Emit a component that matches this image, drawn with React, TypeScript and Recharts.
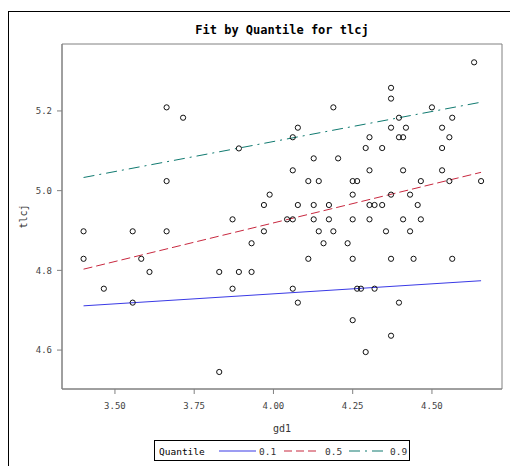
import React from "react";
import { ComposedChart, Scatter, XAxis, YAxis, ReferenceArea, Label } from "recharts";

// observed points
const gd1 = [
  3.401, 3.401, 3.465, 3.556, 3.556, 3.583, 3.609, 3.663, 3.663, 3.663,
  3.715, 3.829, 3.829, 3.871, 3.871, 3.891, 3.891, 3.931, 3.931, 3.970,
  3.970, 3.988, 4.043, 4.061, 4.061, 4.061, 4.061, 4.077, 4.077, 4.077,
  4.110, 4.110, 4.127, 4.127, 4.127, 4.143, 4.143, 4.158, 4.175, 4.175,
  4.189, 4.189, 4.204, 4.234, 4.250, 4.250, 4.250, 4.250, 4.250, 4.264,
  4.264, 4.276, 4.291, 4.291, 4.303, 4.303, 4.303, 4.303, 4.319, 4.319,
  4.343, 4.343, 4.355, 4.371, 4.371, 4.371, 4.371, 4.371, 4.371, 4.396,
  4.396, 4.396, 4.409, 4.409, 4.409, 4.418, 4.431, 4.431, 4.442, 4.455,
  4.465, 4.465, 4.500, 4.532, 4.532, 4.532, 4.555, 4.555, 4.564, 4.564,
  4.633, 4.655,
];
const tlcj = [
  4.898, 4.829, 4.754, 4.898, 4.719, 4.829, 4.796, 5.209, 5.024, 4.898,
  5.183, 4.796, 4.545, 4.928, 4.754, 5.106, 4.796, 4.868, 4.796, 4.964,
  4.898, 4.990, 4.928, 5.134, 5.051, 4.928, 4.754, 5.158, 4.964, 4.719,
  5.024, 4.829, 5.081, 4.964, 4.928, 5.024, 4.898, 4.868, 4.964, 4.928,
  5.209, 4.898, 5.081, 4.868, 5.024, 4.990, 4.928, 4.829, 4.675, 5.024,
  4.754, 4.754, 5.107, 4.595, 5.134, 5.051, 4.964, 4.928, 4.964, 4.754,
  5.107, 4.964, 4.898, 5.258, 5.231, 5.158, 4.990, 4.829, 4.636, 5.183,
  5.134, 4.719, 5.134, 5.051, 4.928, 5.158, 4.990, 4.898, 4.829, 4.964,
  5.024, 4.928, 5.209, 5.158, 5.107, 5.051, 5.134, 5.024, 5.183, 4.829,
  5.322, 5.024,
];

// fitted quantile lines (endpoints)
const fitX = [3.401, 4.655];
const q10 = [4.711, 4.774];
const q50 = [4.803, 5.046];
const q90 = [5.033, 5.222];

const quantiles = ["0.1", "0.5", "0.9"];
const xTicks = [3.5, 3.75, 4.0, 4.25, 4.5];
const yTicks = [4.6, 4.8, 5.0, 5.2];
const xDomain = [3.333, 4.721];
const yDomain = [4.5023, 5.368];

const points = gd1.map((x, i) => ({ x, y: tlcj[i] }));
const mk = (ys: number[]) => fitX.map((x, i) => ({ x, y: ys[i] }));

const COLORS = ["#3a3ae6", "#c8283f", "#107a70"];
const DASHES = [undefined, "9 4", "11 5 2 5"];
const LEG_DASHES = [undefined, "8 4", "11 5 2 5"];

const MONO = "'DejaVu Sans Mono', monospace";

const Circle = (props: any) => {
  const { cx, cy } = props;
  if (cx == null || cy == null) return <g />;
  return <circle cx={cx} cy={cy} r={2.6} fill="none" stroke="#111" strokeWidth={1} />;
};
const NoShape = () => <g />;

export default function App() {
  const fits = [mk(q10), mk(q50), mk(q90)];
  return (
    <div style={{ position: "absolute", left: 0, top: 0, width: 510, height: 466, background: "#fff", overflow: "hidden" }}>
      {/* outer frame */}
      <div style={{ position: "absolute", left: 8, top: 11, width: 510, height: 466, borderLeft: "1px solid #000", borderTop: "1px solid #000" }} />
      <div style={{ position: "absolute", left: 62, top: 23, width: 440, textAlign: "center", fontFamily: MONO, fontWeight: "bold", fontSize: 12, lineHeight: "15px", color: "#000" }}>
        Fit by Quantile for tlcj
      </div>
      <div style={{ position: "absolute", left: 0, top: 0 }}>
        <ComposedChart width={510} height={466} margin={{ top: 44, right: 8, bottom: 47, left: 22 }}>
          <XAxis
            type="number"
            dataKey="x"
            domain={xDomain}
            ticks={xTicks}
            allowDataOverflow
            height={30}
            tickSize={5}
            tickMargin={9}
            stroke="#808080"
            tick={{ fontFamily: MONO, fontSize: 9, fill: "#444" }}
            tickFormatter={(v: number) => v.toFixed(2)}
          >
            <Label
              content={(p: any) => {
                const vb = p.viewBox;
                return (
                  <text x={vb.x + vb.width / 2} y={432} textAnchor="middle" fontFamily={MONO} fontSize={10} fill="#333">
                    gd1
                  </text>
                );
              }}
            />
          </XAxis>
          <YAxis
            type="number"
            dataKey="y"
            domain={yDomain}
            ticks={yTicks}
            allowDataOverflow
            width={40}
            tickSize={5}
            tickMargin={5}
            stroke="#808080"
            tick={{ fontFamily: MONO, fontSize: 9, fill: "#444" }}
            tickFormatter={(v: number) => v.toFixed(1)}
          >
            <Label
              content={(p: any) => {
                const vb = p.viewBox;
                const cy = vb.y + vb.height / 2;
                return (
                  <text x={27} y={cy} transform={`rotate(-90 27 ${cy})`} textAnchor="middle" fontFamily={MONO} fontSize={10} fill="#333">
                    tlcj
                  </text>
                );
              }}
            />
          </YAxis>
          <ReferenceArea x1={xDomain[0]} x2={xDomain[1]} y1={yDomain[0]} y2={yDomain[1]} fill="none" stroke="#808080" strokeWidth={1} ifOverflow="visible" />
          {fits.map((d, i) => (
            <Scatter
              key={quantiles[i]}
              data={d}
              isAnimationActive={false}
              shape={NoShape}
              line={{ stroke: COLORS[i], strokeWidth: 1, strokeDasharray: DASHES[i] }}
            />
          ))}
          <Scatter data={points} isAnimationActive={false} shape={Circle} />
        </ComposedChart>
      </div>
      {/* legend */}
      <div style={{ position: "absolute", left: 154, top: 440, width: 256, height: 21, border: "1px solid #000", boxSizing: "border-box", background: "#fff" }}>
        <svg width={256} height={21} style={{ display: "block" }}>
          <text x={4} y={14} fontFamily={MONO} fontSize={9.5} fill="#000">Quantile</text>
          {quantiles.map((q, i) => {
            const x0 = [64, 129, 194][i];
            const x1 = [101, 162, 231][i];
            const tx = [104, 170, 235][i];
            return (
              <g key={q}>
                <line x1={x0} x2={x1} y1={10} y2={10} stroke={COLORS[i]} strokeWidth={1.2} strokeDasharray={LEG_DASHES[i]} />
                <text x={tx} y={14} fontFamily={MONO} fontSize={9.5} fill="#333">{q}</text>
              </g>
            );
          })}
        </svg>
      </div>
    </div>
  );
}
